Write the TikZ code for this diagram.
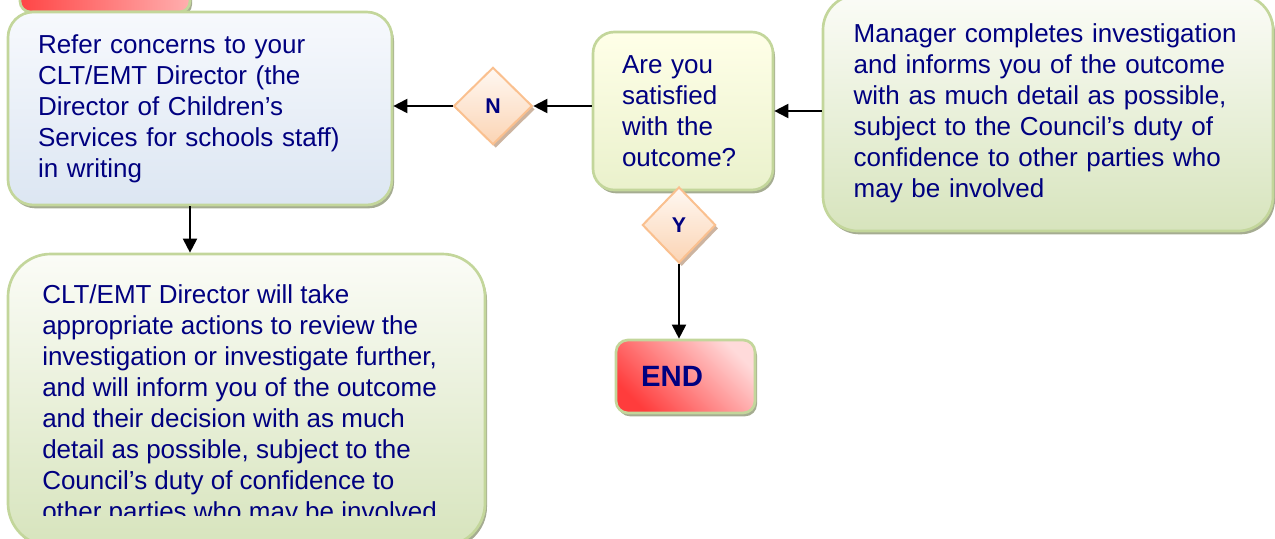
\documentclass[tikz,border=0pt]{standalone}
\usepackage{fontspec}
\setmainfont{Liberation Sans}
\usetikzlibrary{arrows.meta,shapes.geometric,shadows}

\definecolor{txtblue}{RGB}{0,0,128}
\definecolor{boxborder}{RGB}{195,214,155}
\definecolor{boxshadow}{RGB}{165,172,145}
\definecolor{greentop}{RGB}{251,252,247}
\definecolor{greenbot}{RGB}{215,228,189}
\definecolor{bluetop}{RGB}{247,249,253}
\definecolor{bluebot}{RGB}{220,230,242}
\definecolor{yellowtop}{RGB}{255,255,232}
\definecolor{yellowbot}{RGB}{234,241,204}
\definecolor{peachtop}{RGB}{255,248,242}
\definecolor{peachbot}{RGB}{251,212,180}
\definecolor{peachborder}{RGB}{250,192,143}
\definecolor{peachshadow}{RGB}{205,180,160}
\definecolor{redlight}{RGB}{255,218,218}
\definecolor{reddark}{RGB}{255,60,60}

\tikzset{
    flow/.style = {
        line width=1.5pt,
        -{Triangle[length=10.5pt, width=10.5pt]},
        },
    box text/.style = {
        text = txtblue,
        align = left,
        font = \fontsize{19.5pt}{23.25pt}\selectfont,
        },
    round box/.style = {
        box text,
        draw = boxborder,
        line width = 2pt,
        drop shadow = {shadow xshift=1.5pt, shadow yshift=-2.5pt, fill=boxshadow, opacity=1},
        },
    decision/.style = {
        diamond,
        draw = peachborder,
        line width = 1.5pt,
        top color = peachtop,
        bottom color = peachbot,
        text = txtblue,
        font = \fontsize{16pt}{18pt}\selectfont\bfseries,
        inner sep = 0pt,
        drop shadow = {shadow xshift=2pt, shadow yshift=-2.5pt, fill=peachshadow, opacity=1},
        },
}

\begin{document}
\begin{tikzpicture}[
            x=0.75pt, y=-0.75pt,
            BlueBox/.style={round box, top color=bluetop, bottom color=bluebot},
            GreenBox/.style={round box, top color=greentop, bottom color=greenbot},
            YellowBox/.style={round box, top color=yellowtop, bottom color=yellowbot},
            RedBox/.style={round box, font=\bfseries\fontsize{22pt}{26pt}\selectfont}
            ]
            \useasboundingbox (0,0) rectangle (1275,539);

            \node [RedBox, left color=reddark!95, right color=redlight!80!red,
                   rounded corners=8pt, minimum width=127.5pt, minimum height=45pt] (start) at (105,-18) {};

            \node [BlueBox, rounded corners=19pt, minimum width=288pt, minimum height=144.75pt,
                   inner xsep=22.5pt, text width=243pt] (refer) at (200,108.5)
                {Refer concerns to your\\CLT/EMT Director (the\\Director of Children’s\\Services for schools staff)\\in writing};

            \node [YellowBox, rounded corners=16pt, minimum width=135pt, minimum height=118.5pt,
                   inner xsep=21.75pt, text width=91.5pt] (satisfied) at (683,111)
                {Are you\\satisfied\\with the\\outcome?};

            \node [GreenBox, rounded corners=26pt, minimum width=337.5pt, minimum height=177pt,
                   inner xsep=23pt, text width=291.5pt] (manager) at (1048,113)
                {Manager completes investigation\\and informs you of the outcome\\with as much detail as possible,\\subject to the Council’s duty of\\confidence to other parties who\\may be involved};

            \node [GreenBox, rounded corners=32pt, minimum width=357.75pt, minimum height=219pt] (review) at (246.5,400) {};
            \begin{scope}
                \clip (0,0) rectangle (1275,515);
                \node [box text, anchor=north west, inner sep=0pt] (reviewtext) at (42,284)
                    {CLT/EMT Director will take\\appropriate actions to review the\\investigation or investigate further,\\and will inform you of the outcome\\and their decision with as much\\detail as possible, subject to the\\Council’s duty of confidence to\\other parties who may be involved};
            \end{scope}

            \node [decision, minimum width=59pt, minimum height=58pt] (no) at (493,106) {N};
            \node [decision, minimum width=55pt, minimum height=57pt] (yes) at (679,225) {Y};

            \node [RedBox, top color=redlight, bottom color=reddark, shading angle=-45,
                   rounded corners=9pt, minimum width=104.25pt, minimum height=54.75pt,
                   inner xsep=18.75pt, text width=66.75pt] (stop) at (685.5,376.5) {END};

            \draw[flow] (manager.west |- satisfied.east) -- (satisfied.east);
            \draw[flow] (satisfied.west |- no.east) -- (no.east);
            \draw[flow] (no.west) -- (no.west -| refer.east);
            \draw[flow] (yes.south) -- (yes.south |- stop.north);
            \draw[flow] ([xshift=-7.5pt]refer.south) -- ([xshift=-7.5pt]refer.south |- review.north);
        \end{tikzpicture}
\end{document}
